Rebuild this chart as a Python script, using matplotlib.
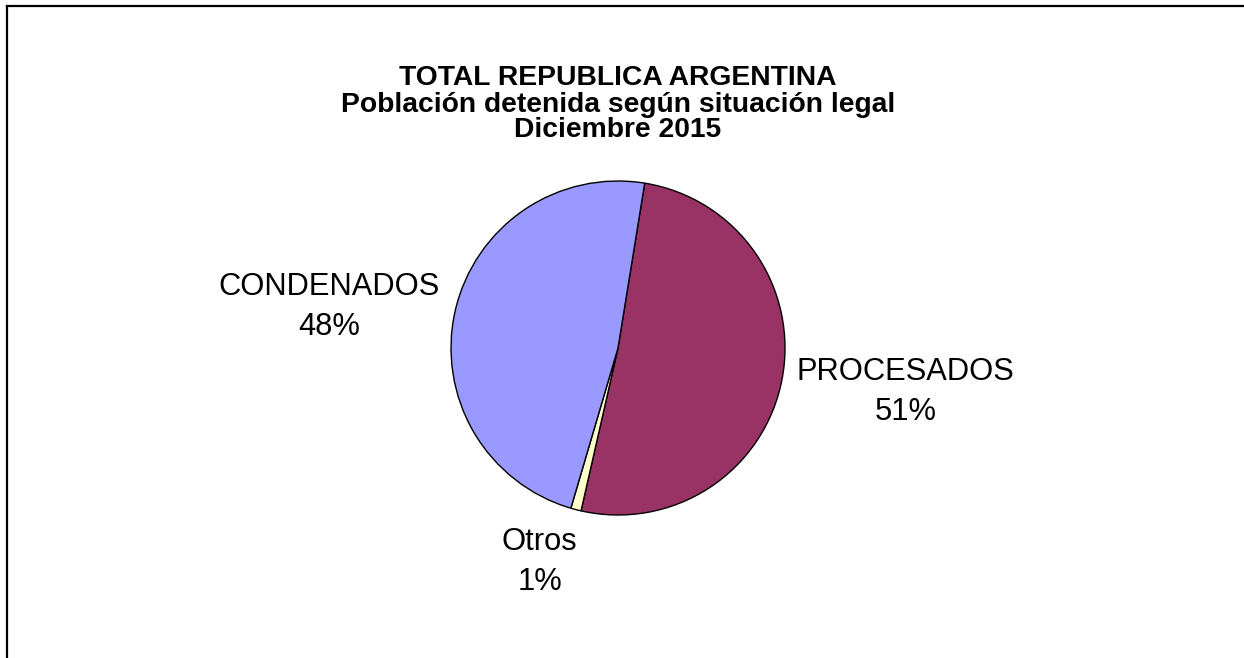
import matplotlib
matplotlib.use("Agg")
import matplotlib.pyplot as plt
from matplotlib.lines import Line2D

plt.rcParams['font.family'] = ['Liberation Sans', 'DejaVu Sans']

title_lines = ["TOTAL REPUBLICA ARGENTINA",
               "Población detenida según situación legal",
               "Diciembre 2015"]
categories = ["PROCESADOS", "Otros", "CONDENADOS"]
values = [51, 1, 48]
colors = ["#993366", "#FFFFCC", "#9999FF"]
# label offsets (in pie-radius units)
label_pos = [(1.72, -0.265), (-0.47, -1.28), (-1.73, 0.245)]

W, H = 1244, 658
fig = plt.figure(figsize=(W / 100, H / 100), dpi=100)

# frame (top and left edges visible)
fig.add_artist(Line2D([7.5 / W, 7.5 / W], [0, 1 - 6 / H], transform=fig.transFigure,
                      color='black', lw=1.6))
fig.add_artist(Line2D([7.5 / W, 1], [1 - 6 / H, 1 - 6 / H], transform=fig.transFigure,
                      color='black', lw=1.6))

title_baselines = [85, 112, 137]
for line, yb in zip(title_lines, title_baselines):
    fig.text(618 / W, 1 - yb / H, line, ha='center', va='baseline',
             fontsize=20.3, fontweight='bold')

cx, cy, r = 618, 348, 167
ax = fig.add_axes([(cx - r) / W, 1 - (cy + r) / H, 2 * r / W, 2 * r / H])
total = sum(values)
start = 90 - 9.2
wedges, _ = ax.pie(values, colors=colors, startangle=start, counterclock=False,
                   radius=1, wedgeprops=dict(edgecolor='black', linewidth=1.0))
ax.set_xlim(-1, 1)
ax.set_ylim(-1, 1)
ax.set_aspect('equal')
ax.axis('off')

for cat, v, (lx, ly) in zip(categories, values, label_pos):
    ax.text(lx, ly, f"{cat}\n{round(100 * v / total)}%", ha='center', va='center',
            fontsize=22.2, linespacing=1.45, clip_on=False)

fig.savefig("out.png", dpi=100)
